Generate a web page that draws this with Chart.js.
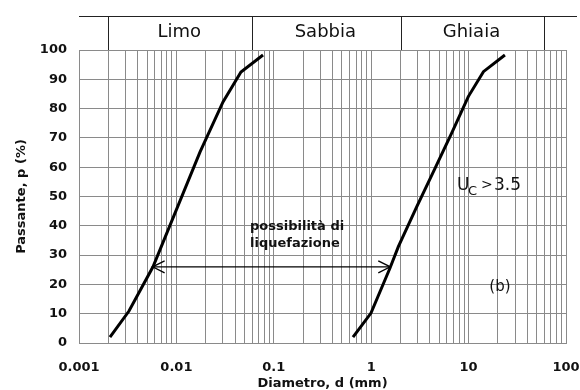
<!DOCTYPE html>
<html>
<head>
<meta charset="utf-8">
<script src="https://cdn.jsdelivr.net/npm/chart.js@4.4.1/dist/chart.umd.min.js"></script>
<style>
  html, body { margin: 0; padding: 0; background: #fff; }
  #wrap { width: 580px; height: 390px; position: relative; }
</style>
</head>
<body>
<div id="wrap"><canvas id="c" width="580" height="390"></canvas></div>
<script>
// ---- data ----
const leftDiam  = [0.00208, 0.00326, 0.00575, 0.0175, 0.0301, 0.0460, 0.0775];
const leftPass  = [2, 10.9, 26, 65.2, 82.3, 92.5, 98.3];
const rightDiam = [0.650, 0.995, 1.56, 1.90, 2.93, 4.52, 6.70, 9.93, 14.2, 23.6];
const rightPass = [2, 10.2, 25.6, 32.9, 46.5, 59.6, 71.6, 84.1, 92.6, 98.3];
const arrowDiam = [0.0057, 1.57];
const arrowPass = [26, 26];
const bandLimits = [0.002, 0.06, 2, 60];
const bandNames  = ['Limo', 'Sabbia', 'Ghiaia'];
const decadeValues = [0.001, 0.01, 0.1, 1, 10, 100];
const decadeLabels = ['0.001', '0.01', '0.1', '1', '10', '100'];
const minorMultipliers = [1, 2, 3, 4, 5, 6, 7, 8, 9];
const yTicks = [0, 10, 20, 30, 40, 50, 60, 70, 80, 90, 100];

const toPts = (xs, ys) => xs.map((x, i) => ({ x: x, y: ys[i] }));

// all grid tick values on log axis
const xTickValues = [];
decadeValues.forEach((d, i) => {
  if (i === decadeValues.length - 1) { xTickValues.push(d); return; }
  minorMultipliers.forEach(m => xTickValues.push(+(d * m).toPrecision(6)));
});

const FONT = "'DejaVu Sans', sans-serif";
const GRID = '#8a8a8a';

const headerPlugin = {
  id: 'header',
  afterDraw(chart) {
    const ctx = chart.ctx, xs = chart.scales.x, area = chart.chartArea;
    const topY = 16;
    ctx.save();
    ctx.strokeStyle = '#222';
    ctx.lineWidth = 1;
    ctx.beginPath();
    ctx.moveTo(xs.left, topY + 0.5);
    ctx.lineTo(chart.width - 3, topY + 0.5);
    bandLimits.forEach(v => {
      const px = Math.round(xs.getPixelForValue(v)) + 0.5;
      ctx.moveTo(px, topY);
      ctx.lineTo(px, area.top);
    });
    ctx.stroke();
    ctx.fillStyle = '#111';
    ctx.font = "18px " + FONT;
    ctx.textAlign = 'center';
    ctx.textBaseline = 'middle';
    bandNames.forEach((n, i) => {
      const a = xs.getPixelForValue(bandLimits[i]);
      const b = xs.getPixelForValue(bandLimits[i + 1]);
      ctx.fillText(n, (a + b) / 2 - 1, 32);
    });
    ctx.restore();
  }
};

const notesPlugin = {
  id: 'notes',
  afterDatasetsDraw(chart) {
    const ctx = chart.ctx, xs = chart.scales.x, ys = chart.scales.y;
    ctx.save();
    ctx.fillStyle = '#111';
    ctx.textBaseline = 'alphabetic';
    ctx.textAlign = 'left';
    // liquefaction label
    const lx = xs.getPixelForValue(0.057);
    ctx.font = "bold 13px " + FONT;
    ctx.fillText('possibilità di', lx, ys.getPixelForValue(38.5));
    ctx.fillText('liquefazione', lx, ys.getPixelForValue(32.8));
    // Uc > 3.5
    const ux = xs.getPixelForValue(7.6), uy = ys.getPixelForValue(52.2);
    ctx.font = "17px " + FONT;
    ctx.fillText('U', ux, uy);
    ctx.font = "13px " + FONT;
    ctx.fillText('C', ux + 11, uy + 5);
    ctx.font = "14px " + FONT;
    ctx.fillText('>', ux + 24, uy - 1);
    ctx.font = "17px " + FONT;
    ctx.fillText('3.5', ux + 37, uy);
    // (b)
    ctx.font = "15px " + FONT;
    ctx.textAlign = 'center';
    ctx.textBaseline = 'middle';
    ctx.fillText('(b)', xs.getPixelForValue(21), ys.getPixelForValue(19));
    // arrow heads
    const meta = chart.getDatasetMeta(2);
    const p0 = meta.data[0], p1 = meta.data[1];
    ctx.strokeStyle = '#000';
    ctx.lineWidth = 1.3;
    ctx.beginPath();
    ctx.moveTo(p0.x + 12, p0.y - 6); ctx.lineTo(p0.x, p0.y); ctx.lineTo(p0.x + 12, p0.y + 6);
    ctx.moveTo(p1.x - 12, p1.y - 6); ctx.lineTo(p1.x, p1.y); ctx.lineTo(p1.x - 12, p1.y + 6);
    ctx.stroke();
    ctx.restore();
  }
};

new Chart(document.getElementById('c'), {
  type: 'scatter',
  data: {
    datasets: [
      { data: toPts(leftDiam, leftPass), showLine: true, borderColor: '#000', borderWidth: 3, pointRadius: 0, tension: 0 },
      { data: toPts(rightDiam, rightPass), showLine: true, borderColor: '#000', borderWidth: 3, pointRadius: 0, tension: 0 },
      { data: toPts(arrowDiam, arrowPass), showLine: true, borderColor: '#000', borderWidth: 1.2, pointRadius: 0 }
    ]
  },
  options: {
    responsive: false,
    animation: false,
    events: [],
    layout: { padding: { top: 50, right: 0, left: 0, bottom: 0 } },
    plugins: { legend: { display: false }, tooltip: { enabled: false } },
    scales: {
      x: {
        type: 'logarithmic',
        min: 0.001, max: 100,
        afterBuildTicks: s => { s.ticks = xTickValues.map(v => ({ value: v })); },
        afterFit: s => { s.height = 47; s.paddingRight = 14; s.paddingLeft = 0; },
        grid: { color: GRID, lineWidth: 1, drawTicks: false },
        border: { color: GRID },
        ticks: {
          autoSkip: false, maxRotation: 0, padding: 17,
          color: '#111', font: { family: FONT, size: 13, weight: 'bold' },
          callback: v => { const i = decadeValues.findIndex(d => Math.abs(d - v) < d * 1e-6); return i >= 0 ? decadeLabels[i] : ''; }
        },
        title: { display: true, text: 'Diametro, d (mm)', color: '#111', font: { family: FONT, size: 13, weight: 'bold', lineHeight: 1 }, padding: { top: 0, bottom: 0 } }
      },
      y: {
        min: 0, max: 100,
        afterBuildTicks: s => { s.ticks = yTicks.map(v => ({ value: v })); },
        afterFit: s => { s.width = 79; },
        grid: { color: GRID, lineWidth: 1, drawTicks: false },
        border: { color: GRID },
        ticks: { padding: 12, color: '#111', font: { family: FONT, size: 13, weight: 'bold' } },
        title: { display: true, text: 'Passante, p (%)', color: '#111', font: { family: FONT, size: 13, weight: 'bold' }, padding: { top: 14, bottom: 0 } }
      }
    }
  },
  plugins: [headerPlugin, notesPlugin]
});
</script>
</body>
</html>
